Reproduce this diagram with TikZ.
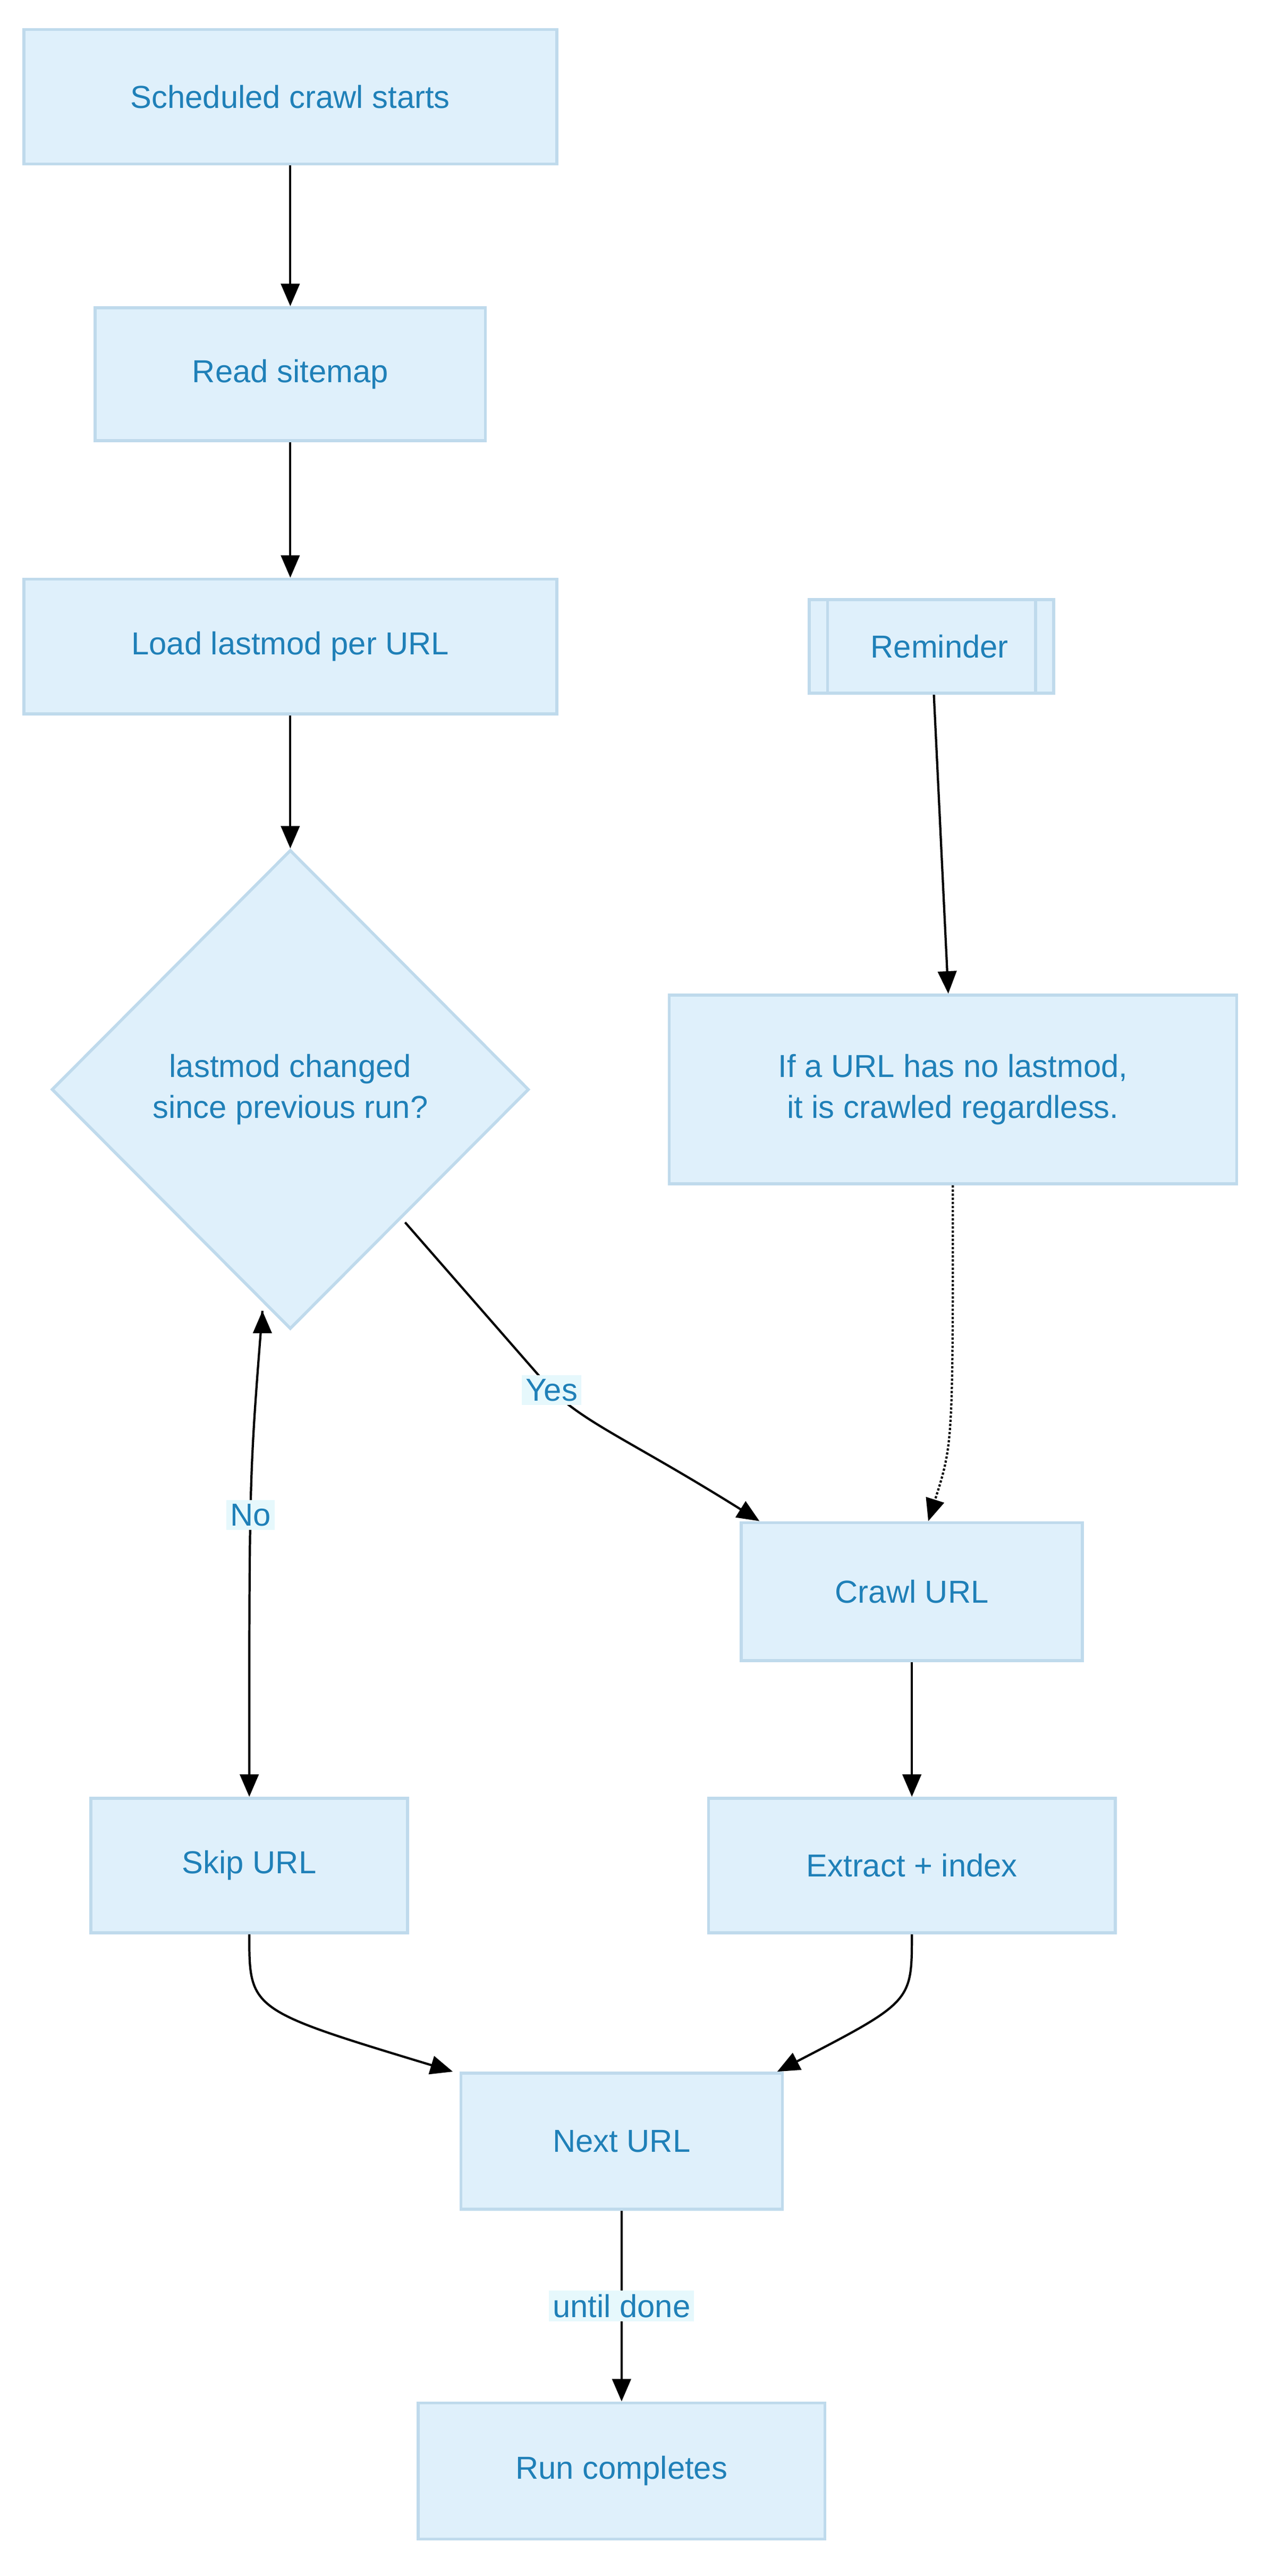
\documentclass[tikz,border=0pt]{standalone}
\usepackage{fontspec}
\setmainfont{Liberation Sans}
\usetikzlibrary{positioning,shapes.geometric,arrows.meta}
\definecolor{boxfill}{HTML}{DFF0FB}
\definecolor{boxline}{HTML}{BFDAEC}
\definecolor{boxtext}{HTML}{1F80B8}
\definecolor{lblfill}{HTML}{E6F8FC}

\begin{document}
\begin{tikzpicture}
    [x=0.03086cm,y=-0.03086cm,>={Triangle[length=12pt,width=10pt]},
     box/.style={draw=boxline,line width=1.6pt,fill=boxfill,text=boxtext,
       font=\fontsize{17}{22}\selectfont,align=center,inner sep=0pt},
     flow/.style={->,line width=1.2pt,black},
     lbl/.style={fill=lblfill,text=boxtext,font=\fontsize{17}{22}\selectfont,inner sep=2pt}]

    \useasboundingbox (0,0) rectangle (770,1570);

    % main column
    \node[box,minimum width=325*0.03086cm,minimum height=82*0.03086cm] (start) at (177,59) {Scheduled crawl starts};
    \node[box,minimum width=238*0.03086cm,minimum height=81*0.03086cm] (sitemap) at (177,228) {Read sitemap};
    \node[box,minimum width=325*0.03086cm,minimum height=82*0.03086cm] (load) at (177,394) {Load lastmod per URL};
    \node[box,diamond,minimum width=291*0.03086cm,minimum height=292*0.03086cm] (check) at (177,664) {lastmod changed\\since previous run?};

    % reminder side
    \node[box,minimum width=149*0.03086cm,minimum height=57*0.03086cm] (remind) at (568,394) {\hspace*{0.3cm}Reminder};
    \draw[boxline,line width=1.6pt] ([xshift=12*0.03086cm]remind.north west) -- ([xshift=12*0.03086cm]remind.south west);
    \draw[boxline,line width=1.6pt] ([xshift=-12*0.03086cm]remind.north east) -- ([xshift=-12*0.03086cm]remind.south east);
    \node[box,minimum width=346*0.03086cm,minimum height=115*0.03086cm] (note) at (581,664) {If a URL has no lastmod,\\it is crawled regardless.};

    \node[box,minimum width=208*0.03086cm,minimum height=84*0.03086cm] (crawl) at (556,970) {Crawl URL};
    \node[box,minimum width=193*0.03086cm,minimum height=82*0.03086cm] (skip) at (152,1137) {Skip URL};
    \node[box,minimum width=248*0.03086cm,minimum height=82*0.03086cm] (extract) at (556,1137) {Extract + index};
    \node[box,minimum width=196*0.03086cm,minimum height=83*0.03086cm] (next) at (379,1305) {Next URL};
    \node[box,minimum width=248*0.03086cm,minimum height=83*0.03086cm] (run) at (379,1506) {Run completes};

    % connectors
    \draw[flow] (start) -- (sitemap);
    \draw[flow] (sitemap) -- (load);
    \draw[flow] (load) -- (check);
    \draw[flow] (check.south) ++(-17,-12) coordinate (nofrom);
    \draw[flow] (nofrom) .. controls (152,900) .. node[lbl,pos=0.55] {No} (skip);
    \coordinate (yesfrom) at (247,745);
    \draw[flow] (yesfrom) -- (330,840) .. controls (350,865) and (380,875) .. node[lbl,pos=0.1] {Yes} ([xshift=12*0.03086cm]crawl.north west);
    \draw[flow] (remind) -- (note);
    \draw[flow,densely dotted] (note) .. controls (581,880) .. ([xshift=10*0.03086cm]crawl.north);
    \draw[flow] (crawl) -- (extract);
    \draw[flow] (skip.south) .. controls (152,1225) .. ([xshift=-4*0.03086cm]next.north west);
    \draw[flow] (extract.south) .. controls (556,1220) .. ([xshift=-4*0.03086cm]next.north east);
    \draw[flow] (next) -- node[lbl] {until done} (run);
\end{tikzpicture}
\end{document}
